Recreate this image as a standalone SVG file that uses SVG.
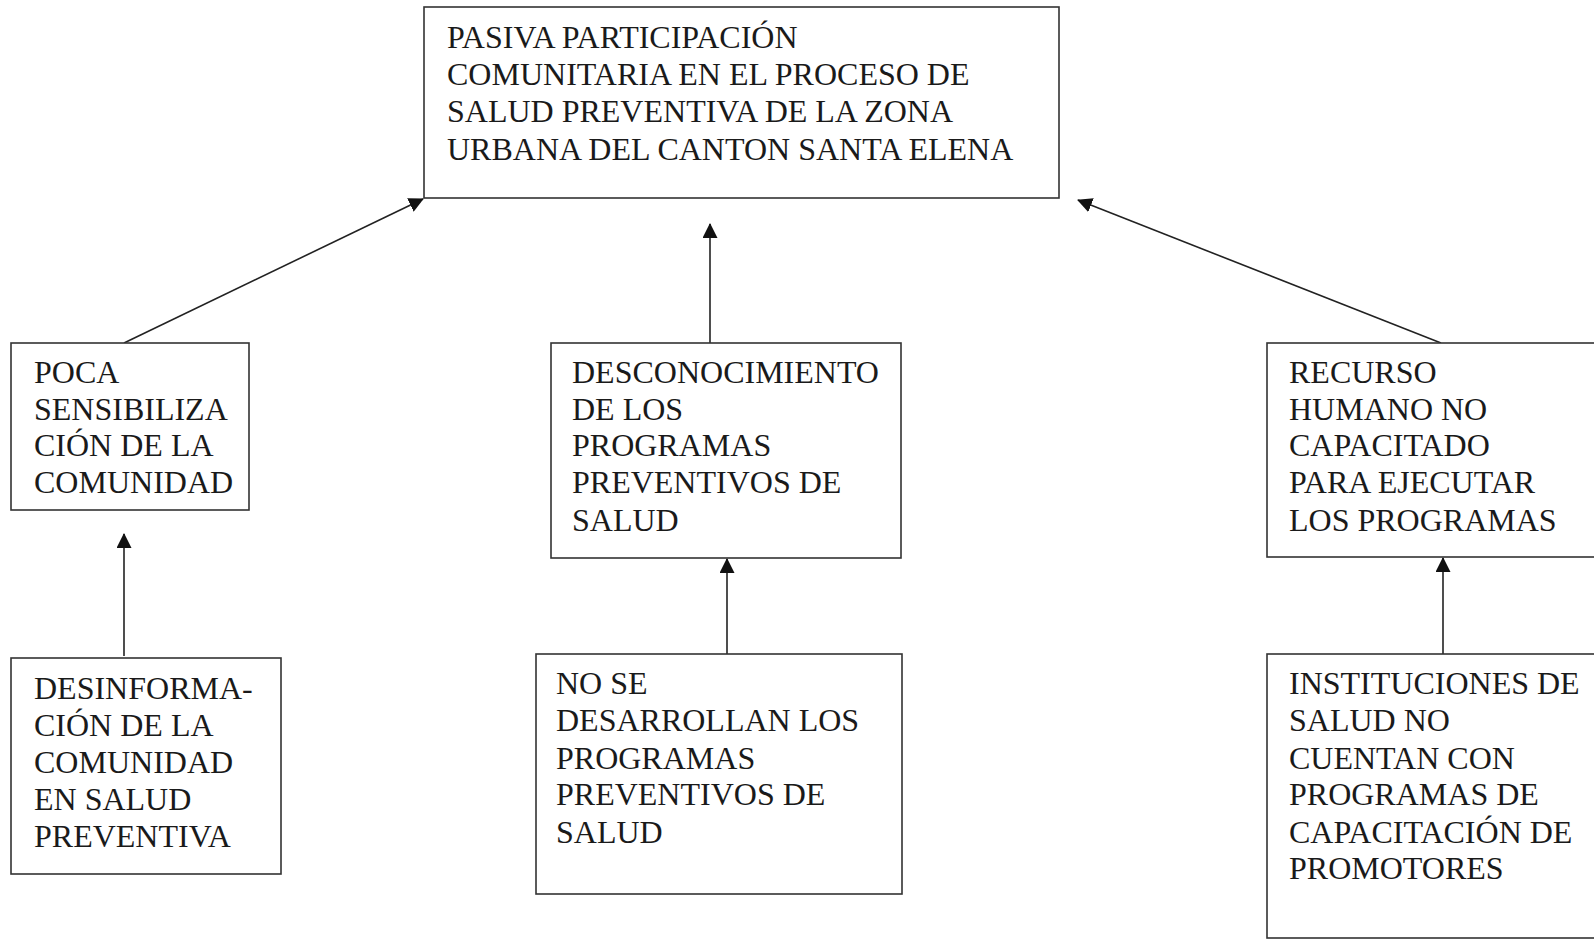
<svg xmlns="http://www.w3.org/2000/svg" width="1594" height="939" viewBox="0 0 1594 939">
<style>
.box{fill:#fff;stroke:#333;stroke-width:1.6}
.t{font-family:"Liberation Serif","Times New Roman",serif;font-size:32px;fill:#1a1a1a}
.c{stroke:#222;stroke-width:1.6;fill:none}
</style>
<defs>
<marker id="ah" viewBox="0 0 15 15" refX="14" refY="7.5" markerWidth="15" markerHeight="15" markerUnits="userSpaceOnUse" orient="auto">
<path d="M0,0 L15,7.5 L0,15 Z" fill="#111"/>
</marker>
</defs>
<rect width="1594" height="939" fill="#fff"/>
<g id="connectors">
<line class="c" x1="124" y1="343" x2="423" y2="199" marker-end="url(#ah)"/>
<line class="c" x1="710" y1="343" x2="710" y2="224" marker-end="url(#ah)"/>
<line class="c" x1="1441" y1="343" x2="1078" y2="200" marker-end="url(#ah)"/>
<line class="c" x1="124" y1="656" x2="124" y2="534" marker-end="url(#ah)"/>
<line class="c" x1="727" y1="654" x2="727" y2="559" marker-end="url(#ah)"/>
<line class="c" x1="1443" y1="654" x2="1443" y2="558" marker-end="url(#ah)"/>
</g>
<g id="n-top">
<rect class="box" x="424" y="7" width="635" height="191"/>
<text class="t" x="447" y="48">PASIVA PARTICIPACIÓN</text>
<text class="t" x="447" y="85">COMUNITARIA EN EL PROCESO DE</text>
<text class="t" x="447" y="122">SALUD PREVENTIVA DE LA ZONA</text>
<text class="t" x="447" y="160">URBANA DEL CANTON SANTA ELENA</text>
</g>
<g id="n-poca">
<rect class="box" x="11" y="343" width="238" height="167"/>
<text class="t" x="34" y="383">POCA</text>
<text class="t" x="34" y="420">SENSIBILIZA</text>
<text class="t" x="34" y="456">CIÓN DE LA</text>
<text class="t" x="34" y="493">COMUNIDAD</text>
</g>
<g id="n-desinf">
<rect class="box" x="11" y="658" width="270" height="216"/>
<text class="t" x="34" y="699">DESINFORMA-</text>
<text class="t" x="34" y="736">CIÓN DE LA</text>
<text class="t" x="34" y="773">COMUNIDAD</text>
<text class="t" x="34" y="810">EN SALUD</text>
<text class="t" x="34" y="847">PREVENTIVA</text>
</g>
<g id="n-descon">
<rect class="box" x="551" y="343" width="350" height="215"/>
<text class="t" x="572" y="383">DESCONOCIMIENTO</text>
<text class="t" x="572" y="420">DE LOS</text>
<text class="t" x="572" y="456">PROGRAMAS</text>
<text class="t" x="572" y="493">PREVENTIVOS DE</text>
<text class="t" x="572" y="531">SALUD</text>
</g>
<g id="n-nose">
<rect class="box" x="536" y="654" width="366" height="240"/>
<text class="t" x="556" y="694">NO SE</text>
<text class="t" x="556" y="731">DESARROLLAN LOS</text>
<text class="t" x="556" y="769">PROGRAMAS</text>
<text class="t" x="556" y="805">PREVENTIVOS DE</text>
<text class="t" x="556" y="843">SALUD</text>
</g>
<g id="n-recurso">
<rect class="box" x="1267" y="343" width="340" height="214"/>
<text class="t" x="1289" y="383">RECURSO</text>
<text class="t" x="1289" y="420">HUMANO NO</text>
<text class="t" x="1289" y="456">CAPACITADO</text>
<text class="t" x="1289" y="493">PARA EJECUTAR</text>
<text class="t" x="1289" y="531">LOS PROGRAMAS</text>
</g>
<g id="n-inst">
<rect class="box" x="1267" y="654" width="340" height="284"/>
<text class="t" x="1289" y="694">INSTITUCIONES DE</text>
<text class="t" x="1289" y="731">SALUD NO</text>
<text class="t" x="1289" y="769">CUENTAN CON</text>
<text class="t" x="1289" y="805">PROGRAMAS DE</text>
<text class="t" x="1289" y="843">CAPACITACIÓN DE</text>
<text class="t" x="1289" y="879">PROMOTORES</text>
</g>
</svg>
